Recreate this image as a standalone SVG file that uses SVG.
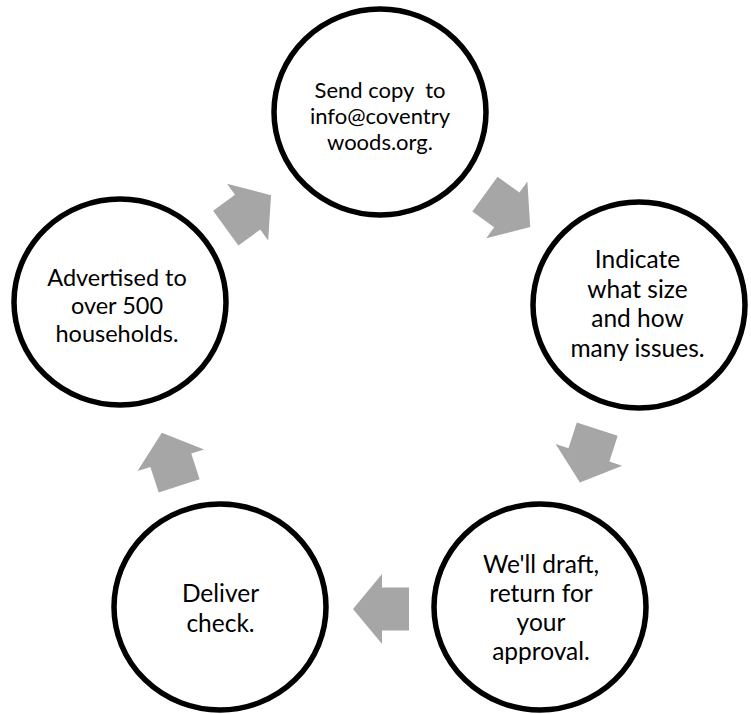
<svg xmlns="http://www.w3.org/2000/svg" width="751" height="714" viewBox="0 0 751 714">
<defs>
<style>
.node ellipse{fill:#fff;stroke:#000;stroke-width:5.5}
.node text{font-family:Lato,"Open Sans","Liberation Sans",sans-serif;fill:#000;text-anchor:middle;white-space:pre}
.arr{fill:#A6A6A6}
</style>
<polygon id="arrow" points="-28,-21.5 -1,-21.5 -1,-35 28,0 -1,35 -1,21.5 -28,21.5"/>
</defs>
<rect width="751" height="714" fill="#fff"/>
<g id="connectors" class="arr">
<use href="#arrow" transform="translate(507.6,210.5) rotate(36)"/>
<use href="#arrow" transform="translate(588.6,455.8) rotate(108)"/>
<use href="#arrow" transform="translate(381,609) rotate(180)"/>
<use href="#arrow" transform="translate(170.5,459.3) rotate(252)"/>
<use href="#arrow" transform="translate(248.4,211.6) rotate(324)"/>
</g>
<g id="node-send" class="node">
<ellipse cx="380" cy="112" rx="106" ry="103"/>
<text font-size="22"><tspan x="380" y="98">Send copy  to</tspan><tspan x="380" y="124">info@coventry</tspan><tspan x="380" y="150">woods.org.</tspan></text>
</g>
<g id="node-indicate" class="node">
<ellipse cx="639" cy="305" rx="106" ry="103"/>
<text font-size="24.5"><tspan x="637.5" y="268">Indicate</tspan><tspan x="637.5" y="297.5">what size</tspan><tspan x="637.5" y="327">and how</tspan><tspan x="637.5" y="356.5">many issues.</tspan></text>
</g>
<g id="node-draft" class="node">
<ellipse cx="540" cy="607" rx="106" ry="103"/>
<text font-size="24.5"><tspan x="541" y="572.5">We'll draft,</tspan><tspan x="541" y="601.5">return for</tspan><tspan x="541" y="630.5">your</tspan><tspan x="541" y="659.5">approval.</tspan></text>
</g>
<g id="node-deliver" class="node">
<ellipse cx="220" cy="607" rx="106" ry="103"/>
<text font-size="24.5"><tspan x="220.5" y="602">Deliver</tspan><tspan x="220.5" y="631.5">check.</tspan></text>
</g>
<g id="node-advertised" class="node">
<ellipse cx="120" cy="302" rx="106" ry="103"/>
<text font-size="23.5"><tspan x="117" y="286">Advertised to</tspan><tspan x="117" y="314">over 500</tspan><tspan x="117" y="342">households.</tspan></text>
</g>
</svg>
